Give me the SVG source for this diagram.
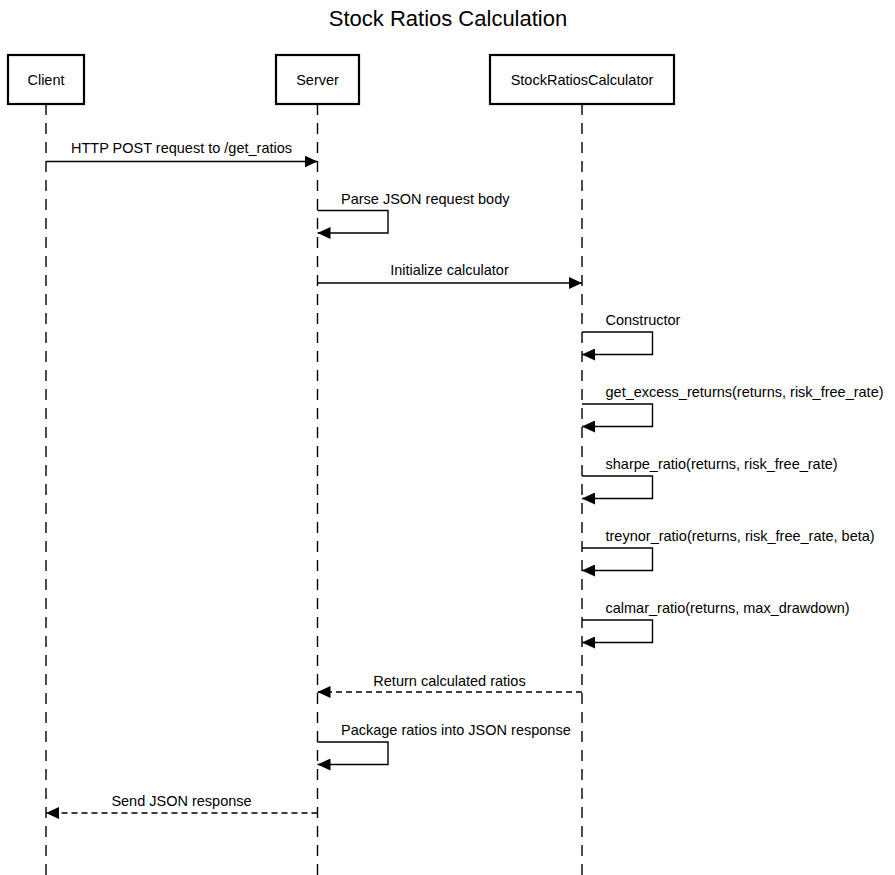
<svg xmlns="http://www.w3.org/2000/svg" width="895" height="875" viewBox="0 0 895 875">
<defs>
<marker id="ah" markerWidth="13" markerHeight="12" refX="13" refY="6" orient="auto" markerUnits="userSpaceOnUse">
<path d="M0,0 L13,6 L0,12 Z" fill="#000"/>
</marker>
<style>
text{font-family:"Liberation Sans",Arial,Helvetica,sans-serif;fill:#000}
.title{font-size:22px;text-anchor:middle}
.actor rect{fill:#fff;stroke:#000;stroke-width:2.2}
.actor text{font-size:14.5px;text-anchor:middle}
.life{stroke:#000;stroke-width:1.4;stroke-dasharray:11 8;fill:none}
.msg{stroke:#000;stroke-width:1.4;fill:none;marker-end:url(#ah)}
.dash{stroke-dasharray:6 4}
.lbl{font-size:14.5px}
.mid{text-anchor:middle}
</style>
</defs>
<rect width="895" height="875" fill="#fff"/>
<text class="title" x="448" y="26">Stock Ratios Calculation</text>

<g id="lifelines">
<line class="life" x1="46" y1="104" x2="46" y2="875"/>
<line class="life" x1="317.5" y1="104" x2="317.5" y2="875"/>
<line class="life" x1="582" y1="104" x2="582" y2="875"/>
</g>

<g id="client" class="actor">
<rect x="8" y="55" width="76" height="49"/>
<text x="46" y="85">Client</text>
</g>
<g id="server" class="actor">
<rect x="276" y="55" width="83" height="49"/>
<text x="317.5" y="85">Server</text>
</g>
<g id="calculator" class="actor">
<rect x="490" y="55" width="184" height="49"/>
<text x="582" y="85">StockRatiosCalculator</text>
</g>

<g id="connectors">
<path class="msg" d="M46,161.5 H317.5"/>
<path class="msg" d="M317.5,210.5 H388 V233 H317.5"/>
<path class="msg" d="M317.5,283 H582"/>
<path class="msg" d="M582,332 H652.5 V354.5 H582"/>
<path class="msg" d="M582,404 H652.5 V426.5 H582"/>
<path class="msg" d="M582,476 H652.5 V498.5 H582"/>
<path class="msg" d="M582,548 H652.5 V570.5 H582"/>
<path class="msg" d="M582,620 H652.5 V642.5 H582"/>
<path class="msg dash" d="M582,692 H317.5"/>
<path class="msg" d="M317.5,742 H388 V764.5 H317.5"/>
<path class="msg dash" d="M317.5,813 H46"/>
</g>

<g id="labels">
<text class="lbl mid" x="181.5" y="153">HTTP POST request to /get_ratios</text>
<text class="lbl" x="341" y="204">Parse JSON request body</text>
<text class="lbl mid" x="449.5" y="275">Initialize calculator</text>
<text class="lbl" x="605.5" y="325">Constructor</text>
<text class="lbl" x="605.5" y="397">get_excess_returns(returns, risk_free_rate)</text>
<text class="lbl" x="605.5" y="469">sharpe_ratio(returns, risk_free_rate)</text>
<text class="lbl" x="605.5" y="541">treynor_ratio(returns, risk_free_rate, beta)</text>
<text class="lbl" x="605.5" y="613">calmar_ratio(returns, max_drawdown)</text>
<text class="lbl mid" x="449.5" y="686">Return calculated ratios</text>
<text class="lbl" x="341" y="735">Package ratios into JSON response</text>
<text class="lbl mid" x="181.5" y="806">Send JSON response</text>
</g>
</svg>
